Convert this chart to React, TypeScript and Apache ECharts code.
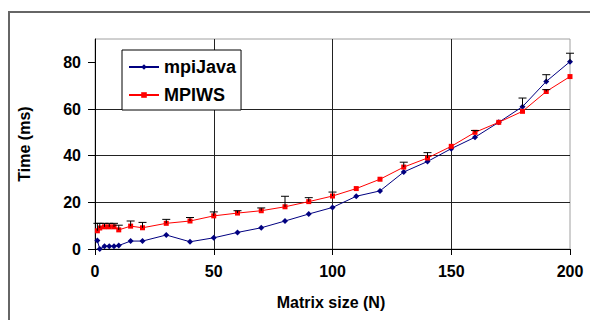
import React, { useEffect, useRef } from "react";
import * as echarts from "echarts";

const sizes = [1, 2, 4, 6, 8, 10, 15, 20, 30, 40, 50, 60, 70, 80, 90, 100, 110, 120, 130, 140, 150, 160, 170, 180, 190, 200];
const mpiJava = [3.6, 0, 1.2, 1.2, 1.2, 1.5, 3.4, 3.4, 6, 3.1, 4.8, 7.1, 9.1, 12, 15, 17.8, 22.6, 24.9, 33, 37.5, 43, 47.9, 54.3, 61, 71.8, 80.3];
const mpiws = [7.8, 9.0, 9.5, 9.5, 9.5, 8.2, 9.8, 9.1, 11, 12, 14.2, 15.4, 16.4, 18.1, 20.3, 22.7, 25.9, 29.9, 35.1, 39, 44, 50, 54.3, 59, 67.5, 73.9];
const mpiwsErrTop = [11, 11, 11, 11, 11, 10.2, 12, 11.4, 12.7, 13.5, 15.9, 16.4, 17.6, 22.6, 22, 24.4, null, null, 37.2, 41.3, null, 50.8, null, null, 68.3, null];
const mpiJavaErrTop = [null, null, null, null, null, null, null, null, null, null, null, null, null, null, null, null, null, null, null, null, null, null, null, 64.7, 74.7, 83.9];
const xTicks = [0, 50, 100, 150, 200];
const yTicks = [0, 20, 40, 60, 80];

const FONT = "'Liberation Sans', Arial, sans-serif";

function errData(base: number[], tops: (number | null)[]) {
  const out: number[][] = [];
  tops.forEach((t, i) => {
    if (t !== null) out.push([sizes[i], base[i], t]);
  });
  return out;
}

function renderErr(params: any, api: any) {
  const x = api.value(0);
  const y = api.value(1);
  const t = api.value(2);
  const p0 = api.coord([x, y]);
  const p1 = api.coord([x, t]);
  const style = { stroke: "#000", lineWidth: 1 };
  return {
    type: "group",
    children: [
      { type: "line", shape: { x1: p0[0], y1: p0[1], x2: p1[0], y2: p1[1] }, style },
      { type: "line", shape: { x1: p1[0] - 4, y1: p1[1], x2: p1[0] + 4, y2: p1[1] }, style },
    ],
  };
}

export default function App() {
  const ref = useRef<HTMLDivElement>(null);
  useEffect(() => {
    if (!ref.current) return;
    const chart = echarts.init(ref.current, null, { renderer: "svg" });
    chart.setOption({
      animation: false,
      backgroundColor: "#fff",
      grid: {
        left: 95,
        right: 20,
        top: 39,
        bottom: 71,
        show: true,
        borderColor: "#a0a0a0",
        borderWidth: 1,
      },
      legend: {
        orient: "vertical",
        left: 122,
        top: 50,
        padding: [8, 5, 6, 6],
        itemGap: 10,
        itemWidth: 30,
        itemHeight: 7,
        itemTextGap: 5,
        backgroundColor: "#fff",
        borderColor: "#000",
        borderWidth: 1,
        data: ["mpiJava", "MPIWS"],
        textStyle: { fontFamily: FONT, fontWeight: "bold", fontSize: 18, color: "#000" },
      },
      xAxis: {
        type: "value",
        min: 0,
        max: 200,
        interval: 50,
        axisLine: { show: true, lineStyle: { color: "#000", width: 1 } },
        axisTick: { show: true, length: 6, lineStyle: { color: "#000" }, customValues: xTicks },
        axisLabel: {
          margin: 14,
          fontFamily: FONT,
          fontWeight: "bold",
          fontSize: 16,
          color: "#000",
          customValues: xTicks,
        },
        splitLine: { show: true, showMaxLine: false, lineStyle: { color: "#222", width: 1 } },
      },
      yAxis: {
        type: "value",
        min: 0,
        max: 90,
        interval: 20,
        axisLine: { show: true, lineStyle: { color: "#000", width: 1 } },
        axisTick: { show: true, length: 7, lineStyle: { color: "#000" }, customValues: yTicks },
        axisLabel: {
          margin: 14,
          fontFamily: FONT,
          fontWeight: "bold",
          fontSize: 16,
          color: "#000",
          customValues: yTicks,
        },
        splitLine: { show: true, showMaxLine: false, lineStyle: { color: "#222", width: 1 } },
      },
      series: [
        {
          name: "mpiJava",
          type: "line",
          data: sizes.map((x, i) => [x, mpiJava[i]]),
          symbol: "diamond",
          symbolSize: 6,
          showAllSymbol: true,
          lineStyle: { color: "#000080", width: 1 },
          itemStyle: { color: "#000080" },
          z: 3,
        },
        {
          name: "MPIWS",
          type: "line",
          data: sizes.map((x, i) => [x, mpiws[i]]),
          symbol: "rect",
          symbolSize: 5,
          showAllSymbol: true,
          lineStyle: { color: "#ff0000", width: 1 },
          itemStyle: { color: "#ff0000" },
          z: 4,
        },
        {
          name: "mpiJavaErr",
          type: "custom",
          data: errData(mpiJava, mpiJavaErrTop),
          renderItem: renderErr,
          z: 5,
          silent: true,
        },
        {
          name: "mpiwsErr",
          type: "custom",
          data: errData(mpiws, mpiwsErrTop),
          renderItem: renderErr,
          z: 5,
          silent: true,
        },
      ],
      graphic: [
        {
          type: "rect",
          shape: { x: 9, y: 12, width: 700, height: 400 },
          style: { fill: "none", stroke: "#666", lineWidth: 2 },
          silent: true,
          z: 100,
        },
        {
          type: "text",
          x: 331,
          y: 302,
          style: {
            text: "Matrix size (N)",
            fontFamily: FONT,
            fontWeight: "bold",
            fontSize: 16,
            fill: "#000",
            align: "center",
            verticalAlign: "middle",
          },
        },
        {
          type: "text",
          x: 24,
          y: 144,
          rotation: Math.PI / 2,
          style: {
            text: "Time (ms)",
            fontFamily: FONT,
            fontWeight: "bold",
            fontSize: 16,
            fill: "#000",
            align: "center",
            verticalAlign: "middle",
          },
        },
      ],
    });
    return () => chart.dispose();
  }, []);
  return (
    <div
      ref={ref}
      style={{ position: "fixed", left: 0, top: 0, width: 590, height: 320, background: "#fff" }}
    />
  );
}
